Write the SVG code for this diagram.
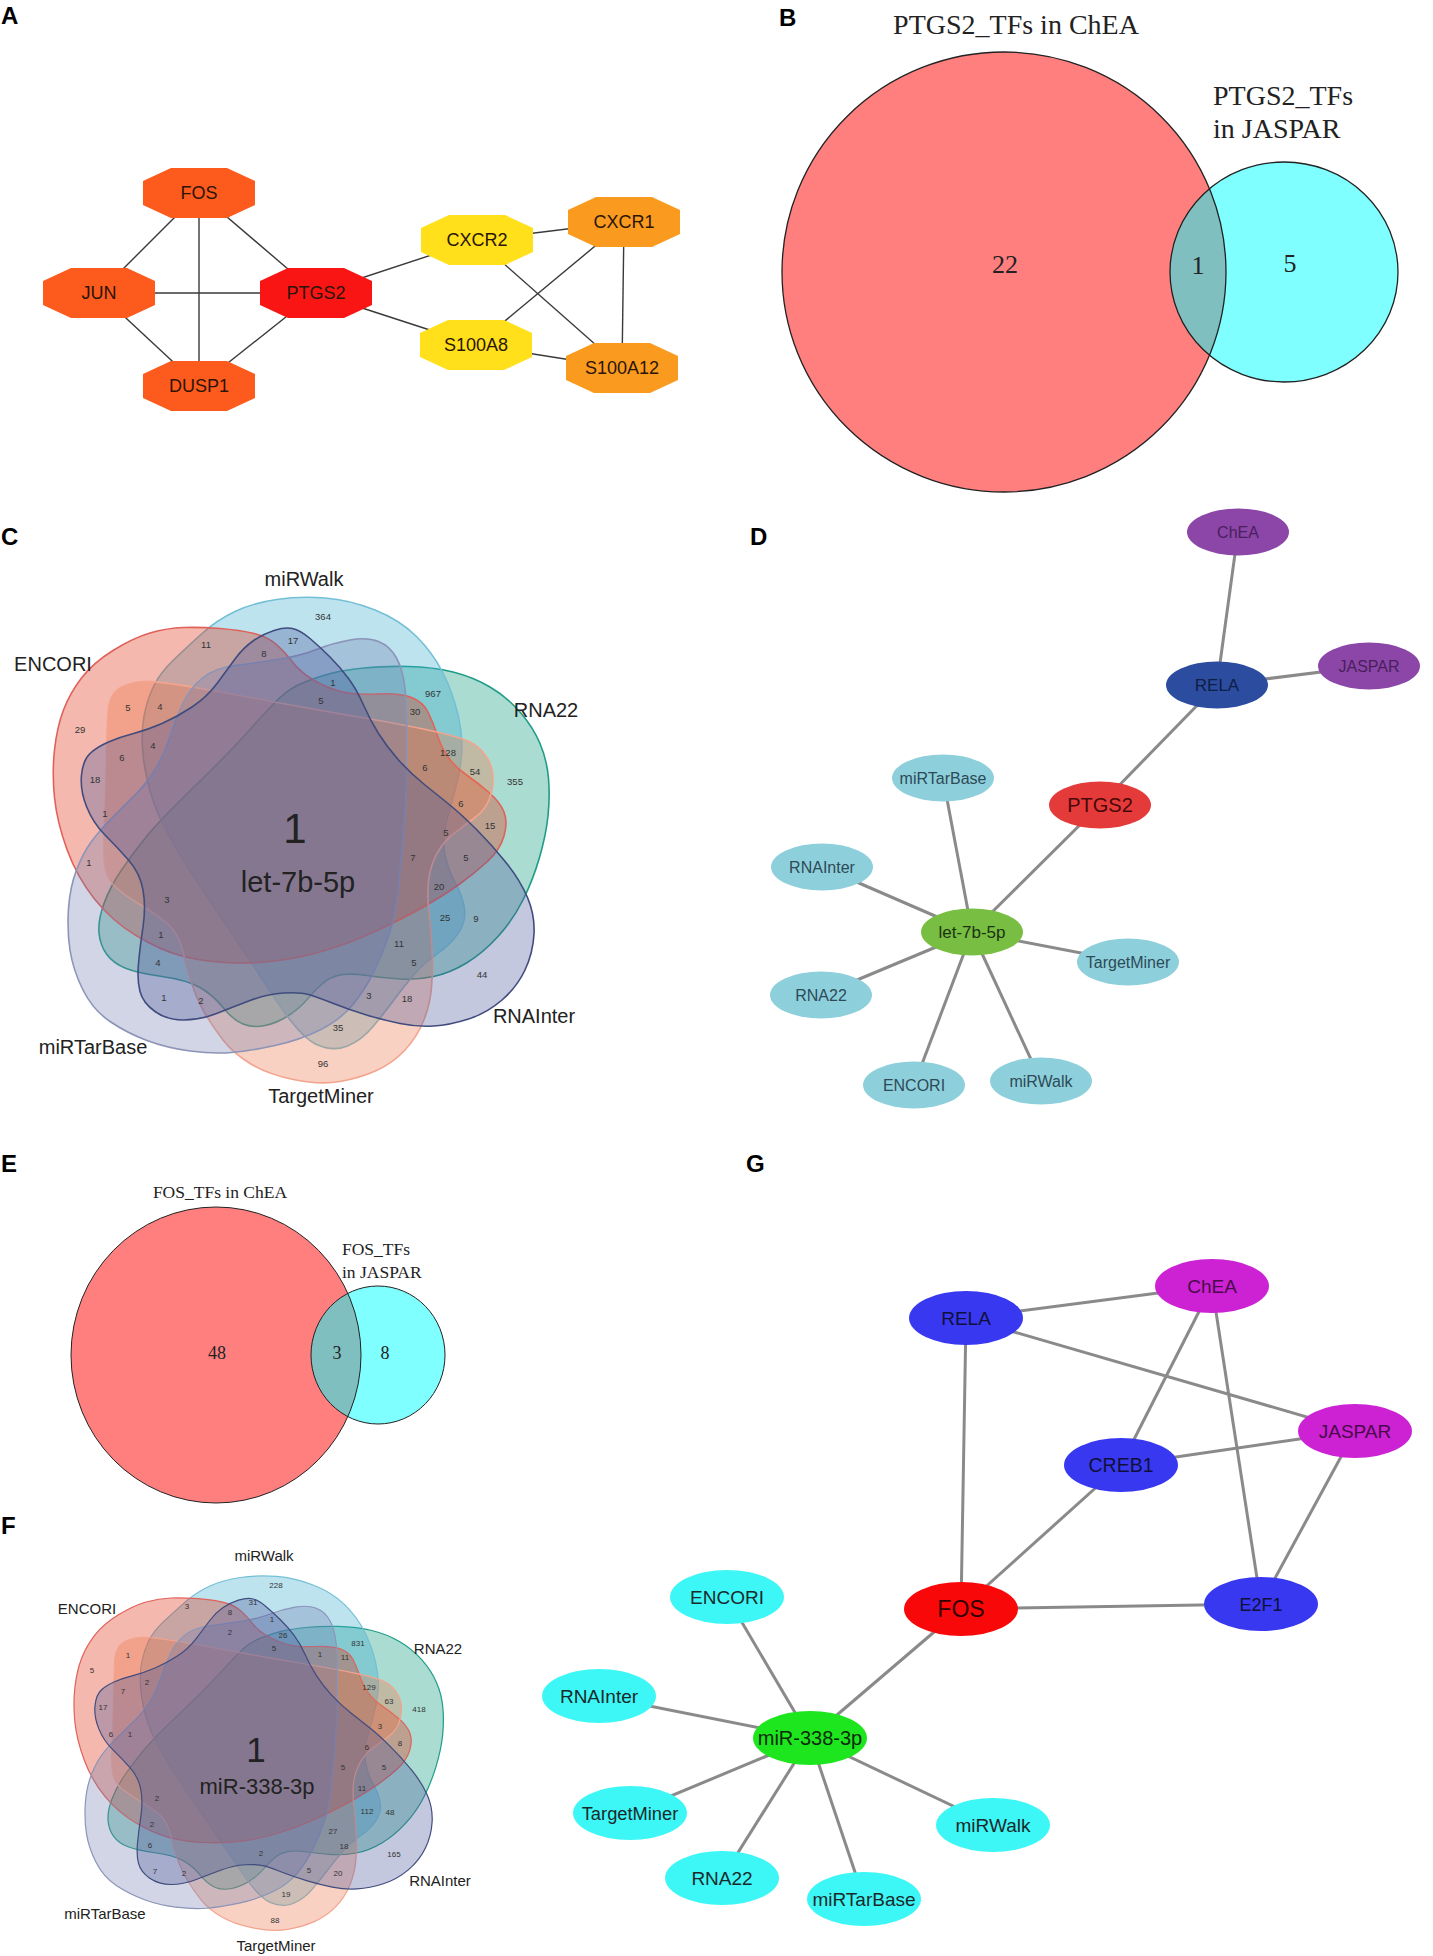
<svg xmlns="http://www.w3.org/2000/svg" xmlns:xlink="http://www.w3.org/1999/xlink" width="1433" height="1956" viewBox="0 0 1433 1956">
<style>
.pl{font-family:"Liberation Sans",Arial,sans-serif;font-weight:bold;font-size:24px;fill:#000}
.oc text{font-family:"Liberation Sans",Arial,sans-serif;font-size:18px;fill:#2a1508;text-anchor:middle}
.ea{stroke:#3a3a3a;stroke-width:1.4;fill:none}
.eg{stroke:#8a8a8a;stroke-width:3;fill:none}
.tm{font-family:"Liberation Serif","Times New Roman",serif;fill:#222}
.mid{text-anchor:middle}
.vl{font-family:"Liberation Sans",Arial,sans-serif;fill:#222;text-anchor:middle}
.vn text{font-family:"Liberation Sans",Arial,sans-serif;fill:#333;text-anchor:middle}
.nd text{font-family:"Liberation Sans",Arial,sans-serif;text-anchor:middle}
.vs{stroke-width:1.6;fill-opacity:0.33}
</style>
<defs>
<polygon id="oct" points="-28,-25 28,-25 56,-12 56,12 28,25 -28,25 -56,12 -56,-12"/>
<g id="venn6">
<path class="vs" fill="#009575" stroke="#1F9C87" d="M280,697.5 Q290,688 305,682 Q320,676 332.5,673 Q345,670 364,668 Q383,666 408,666.5 Q433,667 453,672 Q473,677 490,687 Q507,697 520,712 Q533,727 540,743.5 Q547,760 548.5,778.5 Q550,797 548,816 Q546,835 539.5,857.5 Q533,880 523,900 Q513,920 498,936.5 Q483,953 466.5,963 Q450,973 433.5,976.5 Q417,980 400,979 Q383,978 366.5,975.5 Q350,973 340,975 Q330,977 322.5,983.5 Q315,990 307.5,999 Q300,1008 288.5,1015.5 Q277,1023 265,1025.5 Q253,1028 243,1024 Q233,1020 223,1007.5 Q213,995 200,987.5 Q187,980 162,976.5 Q137,973 125,968 Q113,963 106.5,954 Q100,945 99,932.5 Q98,920 104,903.5 Q110,887 121.5,870 Q133,853 146.5,836.5 Q160,820 195,786 Q230,752 250,729.5 Q270,707 280,697.5 Z"/>
<path class="vs" fill="#37ABCD" stroke="#74BFD6" d="M347.5,1046 Q333,1052 316.5,1044.5 Q300,1037 275,998.5 Q250,960 225,923.5 Q200,887 180,854.5 Q160,822 152.5,798.5 Q145,775 143,754 Q141,733 144,716.5 Q147,700 153.5,686.5 Q160,673 173.5,660 Q187,647 202,633.5 Q217,620 235,611.5 Q253,603 276.5,599.5 Q300,596 325,598 Q350,600 375,610 Q400,620 416.5,636.5 Q433,653 443,673 Q453,693 458,715 Q463,737 461.5,755 Q460,773 455,790 Q450,807 446,823.5 Q442,840 445,855 Q448,870 455.5,883.5 Q463,897 464.5,909.5 Q466,922 458,933.5 Q450,945 437.5,953.5 Q425,962 415,973.5 Q405,985 395,998.5 Q385,1012 373.5,1026 Q362,1040 347.5,1046 Z"/>
<path class="vs" fill="#E02708" stroke="#E0615A" d="M183.5,627.5 Q200,627 220,628.5 Q240,630 254,633.5 Q268,637 276.5,644.5 Q285,652 292.5,662 Q300,672 313.5,680 Q327,688 341,691.5 Q355,695 377.5,694 Q400,693 411.5,697.5 Q423,702 428,712 Q433,722 437,734.5 Q441,747 448,757 Q455,767 466.5,775 Q478,783 489,792.5 Q500,802 504,812 Q508,822 504,836 Q500,850 487.5,861.5 Q475,873 459,884.5 Q443,896 421.5,908 Q400,920 375,931.5 Q350,943 325,950.5 Q300,958 275,961 Q250,964 225,962.5 Q200,961 180,955.5 Q160,950 136,935.5 Q112,921 94.5,899 Q77,877 67,849.5 Q57,822 54.5,797.5 Q52,773 54.5,750 Q57,727 63.5,710 Q70,693 81.5,678 Q93,663 113,650.5 Q133,638 150,633 Q167,628 183.5,627.5 Z"/>
<path class="vs" fill="#EC7247" stroke="#F3A48E" d="M106.5,760 Q107,720 108.5,707.5 Q110,695 118.5,689 Q127,683 142,681.5 Q157,680 228.5,693.5 Q300,707 350,715.5 Q400,724 430,730.5 Q460,737 470,742 Q480,747 486.5,757 Q493,767 493,778.5 Q493,790 489,800 Q485,810 475,817.5 Q465,825 454,833.5 Q443,842 436.5,854.5 Q430,867 428.5,881 Q427,895 429,912.5 Q431,930 432,950 Q433,970 431.5,987.5 Q430,1005 423.5,1021 Q417,1037 405,1050 Q393,1063 376.5,1070.5 Q360,1078 340,1081.5 Q320,1085 293.5,1079.5 Q267,1074 250,1063.5 Q233,1053 223,1040 Q213,1027 205,1013.5 Q197,1000 191.5,982.5 Q186,965 182,948.5 Q178,932 165.5,922 Q153,912 140,904.5 Q127,897 117,888.5 Q107,880 105,866.5 Q103,853 104.5,826.5 Q106,800 106.5,760 Z"/>
<path class="vs" fill="#727FB1" stroke="#8C94B8" d="M91.5,841.5 Q100,830 113.5,816.5 Q127,803 137,793 Q147,783 156,768 Q165,753 170,736.5 Q175,720 182.5,704 Q190,688 202.5,678 Q215,668 235,665.5 Q255,663 277.5,659.5 Q300,656 316.5,649.5 Q333,643 350,640 Q367,637 378.5,641.5 Q390,646 396.5,658 Q403,670 405,688.5 Q407,707 407,730 Q407,753 406,786.5 Q405,820 402.5,845 Q400,870 398,891.5 Q396,913 389.5,933 Q383,953 374,971.5 Q365,990 352.5,1005 Q340,1020 320,1030 Q300,1040 275,1045.5 Q250,1051 231.5,1052.5 Q213,1054 190,1051 Q167,1048 147,1040.5 Q127,1033 110,1021.5 Q93,1010 83,990 Q73,970 70,950 Q67,930 68.5,908.5 Q70,887 76.5,870 Q83,853 91.5,841.5 Z"/>
<path class="vs" fill="#4D599B" stroke="#404C7E" d="M292.5,628.5 Q300,630 310,638.5 Q320,647 330,657 Q340,667 348.5,678.5 Q357,690 363.5,705 Q370,720 378.5,733.5 Q387,747 398.5,760 Q410,773 425,785 Q440,797 451,806 Q462,815 477,830 Q492,845 506,862.5 Q520,880 527.5,897.5 Q535,915 534,934 Q533,953 525,970 Q517,987 502,1000 Q487,1013 468.5,1019 Q450,1025 433.5,1026 Q417,1027 400,1023.5 Q383,1020 366.5,1015 Q350,1010 333.5,1003.5 Q317,997 308.5,994.5 Q300,992 283.5,993 Q267,994 250,1000.5 Q233,1007 216.5,1013.5 Q200,1020 183.5,1020 Q167,1020 155,1011.5 Q143,1003 140,991.5 Q137,980 138.5,963.5 Q140,947 143,927 Q146,907 143,890 Q140,873 128.5,860 Q117,847 105,835 Q93,823 86.5,806.5 Q80,790 81.5,775 Q83,760 90,753.5 Q97,747 108.5,742 Q120,737 133.5,733.5 Q147,730 162,723.5 Q177,717 192,707 Q207,697 217,683.5 Q227,670 235,659 Q243,648 253,641 Q263,634 274,630.5 Q285,627 292.5,628.5 Z"/>
</g>
</defs>
<rect width="1433" height="1956" fill="#fff"/>

<!-- panel labels -->
<g id="panel-labels">
<text class="pl" x="1" y="24">A</text>
<text class="pl" x="779" y="26">B</text>
<text class="pl" x="1" y="545">C</text>
<text class="pl" x="750" y="545">D</text>
<text class="pl" x="1" y="1172">E</text>
<text class="pl" x="1" y="1534">F</text>
<text class="pl" x="746" y="1172">G</text>
</g>

<!-- Panel A connectors -->
<g id="connectors-A" class="ea">
<line x1="199" y1="193" x2="99" y2="293"/>
<line x1="199" y1="193" x2="316" y2="293"/>
<line x1="199" y1="193" x2="199" y2="386"/>
<line x1="99" y1="293" x2="316" y2="293"/>
<line x1="99" y1="293" x2="199" y2="386"/>
<line x1="316" y1="293" x2="199" y2="386"/>
<line x1="316" y1="293" x2="477" y2="240"/>
<line x1="316" y1="293" x2="476" y2="345"/>
<line x1="477" y1="240" x2="624" y2="222"/>
<line x1="477" y1="240" x2="622" y2="368"/>
<line x1="624" y1="222" x2="476" y2="345"/>
<line x1="624" y1="222" x2="622" y2="368"/>
<line x1="476" y1="345" x2="622" y2="368"/>
</g>
<g class="oc">
<g id="A-FOS" transform="translate(199,193)"><use xlink:href="#oct" href="#oct" fill="#FD5A1D"/><text y="6">FOS</text></g>
<g id="A-JUN" transform="translate(99,293)"><use xlink:href="#oct" href="#oct" fill="#FD5A1D"/><text y="6">JUN</text></g>
<g id="A-PTGS2" transform="translate(316,293)"><use xlink:href="#oct" href="#oct" fill="#FA1515"/><text y="6">PTGS2</text></g>
<g id="A-DUSP1" transform="translate(199,386)"><use xlink:href="#oct" href="#oct" fill="#FD5A1D"/><text y="6">DUSP1</text></g>
<g id="A-CXCR2" transform="translate(477,240)"><use xlink:href="#oct" href="#oct" fill="#FFE01A"/><text y="6">CXCR2</text></g>
<g id="A-CXCR1" transform="translate(624,222)"><use xlink:href="#oct" href="#oct" fill="#FA9A1F"/><text y="6">CXCR1</text></g>
<g id="A-S100A8" transform="translate(476,345)"><use xlink:href="#oct" href="#oct" fill="#FFE01A"/><text y="6">S100A8</text></g>
<g id="A-S100A12" transform="translate(622,368)"><use xlink:href="#oct" href="#oct" fill="#FA9A1F"/><text y="6">S100A12</text></g>
</g>

<!-- Panel B -->
<g id="B-venn">
<ellipse cx="1004" cy="272" rx="222" ry="220" fill="#FF0000" fill-opacity="0.5"/>
<ellipse cx="1284" cy="272" rx="114" ry="110" fill="#00FFFF" fill-opacity="0.5"/>
<ellipse cx="1004" cy="272" rx="222" ry="220" fill="none" stroke="#222" stroke-width="1.3"/>
<ellipse cx="1284" cy="272" rx="114" ry="110" fill="none" stroke="#222" stroke-width="1.3"/>
<text class="tm mid" x="1016" y="34" font-size="28">PTGS2_TFs in ChEA</text>
<text class="tm" x="1213" y="105" font-size="28">PTGS2_TFs</text>
<text class="tm" x="1213" y="138" font-size="28">in JASPAR</text>
<text class="tm mid" x="1005" y="273" font-size="26">22</text>
<text class="tm mid" x="1198" y="274" font-size="26">1</text>
<text class="tm mid" x="1290" y="272" font-size="26">5</text>
</g>

<!-- Panel C -->
<g id="C-venn">
<use xlink:href="#venn6" href="#venn6"/>
<text class="vl" x="304" y="586" font-size="20">miRWalk</text>
<text class="vl" x="53" y="671" font-size="20">ENCORI</text>
<text class="vl" x="546" y="717" font-size="20">RNA22</text>
<text class="vl" x="534" y="1023" font-size="20">RNAInter</text>
<text class="vl" x="93" y="1054" font-size="20">miRTarBase</text>
<text class="vl" x="321" y="1103" font-size="20">TargetMiner</text>
<text class="vl" x="295" y="843" font-size="42">1</text>
<text class="vl" x="298" y="892" font-size="29">let-7b-5p</text>
<g class="vn" font-size="9.5">
<text x="323" y="620">364</text><text x="206" y="648">11</text><text x="293" y="644">17</text><text x="264" y="657">8</text>
<text x="333" y="686">1</text><text x="321" y="704">5</text><text x="433" y="697">967</text><text x="415" y="715">30</text>
<text x="128" y="711">5</text><text x="160" y="710">4</text><text x="80" y="733">29</text><text x="153" y="749">4</text>
<text x="122" y="761">6</text><text x="448" y="756">128</text><text x="425" y="771">6</text><text x="475" y="775">54</text>
<text x="515" y="785">355</text><text x="95" y="783">18</text><text x="461" y="807">6</text><text x="105" y="817">1</text>
<text x="490" y="829">15</text><text x="446" y="836">5</text><text x="89" y="866">1</text><text x="413" y="861">7</text>
<text x="466" y="861">5</text><text x="439" y="890">20</text><text x="167" y="903">3</text><text x="445" y="921">25</text>
<text x="476" y="922">9</text><text x="161" y="938">1</text><text x="399" y="947">11</text><text x="158" y="966">4</text>
<text x="414" y="966">5</text><text x="482" y="978">44</text><text x="164" y="1001">1</text><text x="201" y="1004">2</text>
<text x="369" y="999">3</text><text x="407" y="1002">18</text><text x="338" y="1031">35</text><text x="323" y="1067">96</text>
</g>
</g>

<!-- Panel D connectors -->
<g id="connectors-D" class="eg" stroke-width="2.8">
<line x1="1238" y1="532" x2="1217" y2="685"/>
<line x1="1369" y1="666" x2="1217" y2="685"/>
<line x1="1217" y1="685" x2="1100" y2="805"/>
<line x1="1100" y1="805" x2="972" y2="932"/>
<line x1="972" y1="932" x2="943" y2="778"/>
<line x1="972" y1="932" x2="822" y2="867"/>
<line x1="972" y1="932" x2="1128" y2="962"/>
<line x1="972" y1="932" x2="821" y2="995"/>
<line x1="972" y1="932" x2="914" y2="1085"/>
<line x1="972" y1="932" x2="1041" y2="1081"/>
</g>
<g class="nd">
<g id="D-ChEA"><ellipse cx="1238" cy="532" rx="51" ry="23.5" fill="#8B46A8"/><text x="1238" y="538" font-size="16" fill="#4A1F5C">ChEA</text></g>
<g id="D-JASPAR"><ellipse cx="1369" cy="666" rx="51" ry="23.5" fill="#8B46A8"/><text x="1369" y="672" font-size="16" fill="#4A1F5C">JASPAR</text></g>
<g id="D-RELA"><ellipse cx="1217" cy="685" rx="51" ry="23.5" fill="#2C4C9F"/><text x="1217" y="691" font-size="17" fill="#0F1E45">RELA</text></g>
<g id="D-PTGS2"><ellipse cx="1100" cy="805" rx="51" ry="23.5" fill="#E53A3A"/><text x="1100" y="812" font-size="20" fill="#4A0808">PTGS2</text></g>
<g id="D-miRTarBase"><ellipse cx="943" cy="778" rx="51" ry="23.5" fill="#8DD0DC"/><text x="943" y="784" font-size="16" fill="#2E4A56">miRTarBase</text></g>
<g id="D-RNAInter"><ellipse cx="822" cy="867" rx="51" ry="23.5" fill="#8DD0DC"/><text x="822" y="873" font-size="16" fill="#2E4A56">RNAInter</text></g>
<g id="D-let-7b-5p"><ellipse cx="972" cy="932" rx="51" ry="23.5" fill="#78BE43"/><text x="972" y="938" font-size="17" fill="#1B3310">let-7b-5p</text></g>
<g id="D-TargetMiner"><ellipse cx="1128" cy="962" rx="51" ry="23.5" fill="#8DD0DC"/><text x="1128" y="968" font-size="16" fill="#2E4A56">TargetMiner</text></g>
<g id="D-RNA22"><ellipse cx="821" cy="995" rx="51" ry="23.5" fill="#8DD0DC"/><text x="821" y="1001" font-size="16" fill="#2E4A56">RNA22</text></g>
<g id="D-ENCORI"><ellipse cx="914" cy="1085" rx="51" ry="23.5" fill="#8DD0DC"/><text x="914" y="1091" font-size="16" fill="#2E4A56">ENCORI</text></g>
<g id="D-miRWalk"><ellipse cx="1041" cy="1081" rx="51" ry="23.5" fill="#8DD0DC"/><text x="1041" y="1087" font-size="16" fill="#2E4A56">miRWalk</text></g>
</g>

<!-- Panel E -->
<g id="E-venn">
<ellipse cx="216" cy="1355" rx="145" ry="148" fill="#FF0000" fill-opacity="0.5"/>
<ellipse cx="378" cy="1355" rx="67" ry="69" fill="#00FFFF" fill-opacity="0.5"/>
<ellipse cx="216" cy="1355" rx="145" ry="148" fill="none" stroke="#222" stroke-width="1"/>
<ellipse cx="378" cy="1355" rx="67" ry="69" fill="none" stroke="#222" stroke-width="1"/>
<text class="tm mid" x="220" y="1198" font-size="17.5">FOS_TFs in ChEA</text>
<text class="tm" x="342" y="1255" font-size="17.5">FOS_TFs</text>
<text class="tm" x="342" y="1278" font-size="17.5">in JASPAR</text>
<text class="tm mid" x="217" y="1359" font-size="18">48</text>
<text class="tm mid" x="337" y="1359" font-size="18">3</text>
<text class="tm mid" x="385" y="1359" font-size="18">8</text>
</g>

<!-- Panel F -->
<g id="F-venn">
<use xlink:href="#venn6" href="#venn6" transform="translate(34.3,1139.9) scale(0.745,0.73)"/>
<text class="vl" x="264" y="1561" font-size="15">miRWalk</text>
<text class="vl" x="87" y="1614" font-size="15">ENCORI</text>
<text class="vl" x="438" y="1654" font-size="15">RNA22</text>
<text class="vl" x="440" y="1886" font-size="15">RNAInter</text>
<text class="vl" x="105" y="1919" font-size="15">miRTarBase</text>
<text class="vl" x="276" y="1951" font-size="15">TargetMiner</text>
<text class="vl" x="256" y="1762" font-size="35">1</text>
<text class="vl" x="257" y="1794" font-size="22">miR-338-3p</text>
<g class="vn" font-size="8">
<text x="276" y="1588">228</text><text x="187" y="1609">3</text><text x="253" y="1605">31</text><text x="230" y="1615">8</text>
<text x="272" y="1622">1</text><text x="230" y="1635">2</text><text x="283" y="1638">26</text><text x="274" y="1651">5</text>
<text x="358" y="1646">831</text><text x="320" y="1657">1</text><text x="345" y="1660">11</text><text x="92" y="1673">5</text>
<text x="128" y="1658">1</text><text x="147" y="1685">2</text><text x="123" y="1694">7</text><text x="103" y="1710">17</text>
<text x="369" y="1690">129</text><text x="389" y="1704">63</text><text x="419" y="1712">418</text><text x="111" y="1737">6</text>
<text x="130" y="1737">1</text><text x="380" y="1729">3</text><text x="367" y="1750">6</text><text x="400" y="1746">8</text>
<text x="343" y="1770">5</text><text x="384" y="1770">5</text><text x="157" y="1801">2</text><text x="362" y="1791">11</text>
<text x="367" y="1814">112</text><text x="390" y="1815">48</text><text x="333" y="1834">27</text><text x="152" y="1827">2</text>
<text x="150" y="1848">6</text><text x="344" y="1849">18</text><text x="261" y="1856">2</text><text x="394" y="1857">165</text>
<text x="155" y="1874">7</text><text x="184" y="1876">2</text><text x="309" y="1873">5</text><text x="338" y="1876">20</text>
<text x="286" y="1897">19</text><text x="275" y="1923">88</text>
</g>
</g>

<!-- Panel G connectors -->
<g id="connectors-G" class="eg">
<line x1="966" y1="1318" x2="1212" y2="1286"/>
<line x1="966" y1="1318" x2="1355" y2="1431"/>
<line x1="966" y1="1318" x2="961" y2="1609"/>
<line x1="1212" y1="1286" x2="1121" y2="1465"/>
<line x1="1212" y1="1286" x2="1261" y2="1604"/>
<line x1="1355" y1="1431" x2="1121" y2="1465"/>
<line x1="1355" y1="1431" x2="1261" y2="1604"/>
<line x1="1121" y1="1465" x2="961" y2="1609"/>
<line x1="961" y1="1609" x2="1261" y2="1604"/>
<line x1="961" y1="1609" x2="810" y2="1738"/>
<line x1="810" y1="1738" x2="727" y2="1597"/>
<line x1="810" y1="1738" x2="599" y2="1696"/>
<line x1="810" y1="1738" x2="630" y2="1813"/>
<line x1="810" y1="1738" x2="722" y2="1878"/>
<line x1="810" y1="1738" x2="864" y2="1899"/>
<line x1="810" y1="1738" x2="993" y2="1825"/>
</g>
<g class="nd">
<g id="G-RELA"><ellipse cx="966" cy="1318" rx="57" ry="27" fill="#3838F0"/><text x="966" y="1325" font-size="19" fill="#10103a">RELA</text></g>
<g id="G-ChEA"><ellipse cx="1212" cy="1286" rx="57" ry="27" fill="#CC22D4"/><text x="1212" y="1293" font-size="19" fill="#4a0a4a">ChEA</text></g>
<g id="G-JASPAR"><ellipse cx="1355" cy="1431" rx="57" ry="27" fill="#CC22D4"/><text x="1355" y="1438" font-size="19" fill="#4a0a4a">JASPAR</text></g>
<g id="G-CREB1"><ellipse cx="1121" cy="1465" rx="57" ry="27" fill="#3838F0"/><text x="1121" y="1472" font-size="19.5" fill="#10103a">CREB1</text></g>
<g id="G-FOS"><ellipse cx="961" cy="1609" rx="57" ry="27" fill="#F80808"/><text x="961" y="1617" font-size="23" fill="#300">FOS</text></g>
<g id="G-E2F1"><ellipse cx="1261" cy="1604" rx="57" ry="27" fill="#3838F0"/><text x="1261" y="1611" font-size="18" fill="#10103a">E2F1</text></g>
<g id="G-ENCORI"><ellipse cx="727" cy="1597" rx="57" ry="27" fill="#3DF7F7"/><text x="727" y="1604" font-size="19" fill="#1a2a2a">ENCORI</text></g>
<g id="G-RNAInter"><ellipse cx="599" cy="1696" rx="57" ry="27" fill="#3DF7F7"/><text x="599" y="1703" font-size="19" fill="#1a2a2a">RNAInter</text></g>
<g id="G-miR-338-3p"><ellipse cx="810" cy="1738" rx="57" ry="27" fill="#1EE61E"/><text x="810" y="1745" font-size="20" fill="#0a2a0a">miR-338-3p</text></g>
<g id="G-TargetMiner"><ellipse cx="630" cy="1813" rx="57" ry="27" fill="#3DF7F7"/><text x="630" y="1820" font-size="18.3" fill="#1a2a2a">TargetMiner</text></g>
<g id="G-miRWalk"><ellipse cx="993" cy="1825" rx="57" ry="27" fill="#3DF7F7"/><text x="993" y="1832" font-size="19" fill="#1a2a2a">miRWalk</text></g>
<g id="G-RNA22"><ellipse cx="722" cy="1878" rx="57" ry="27" fill="#3DF7F7"/><text x="722" y="1885" font-size="19" fill="#1a2a2a">RNA22</text></g>
<g id="G-miRTarBase"><ellipse cx="864" cy="1899" rx="57" ry="27" fill="#3DF7F7"/><text x="864" y="1906" font-size="19" fill="#1a2a2a">miRTarBase</text></g>
</g>
</svg>
